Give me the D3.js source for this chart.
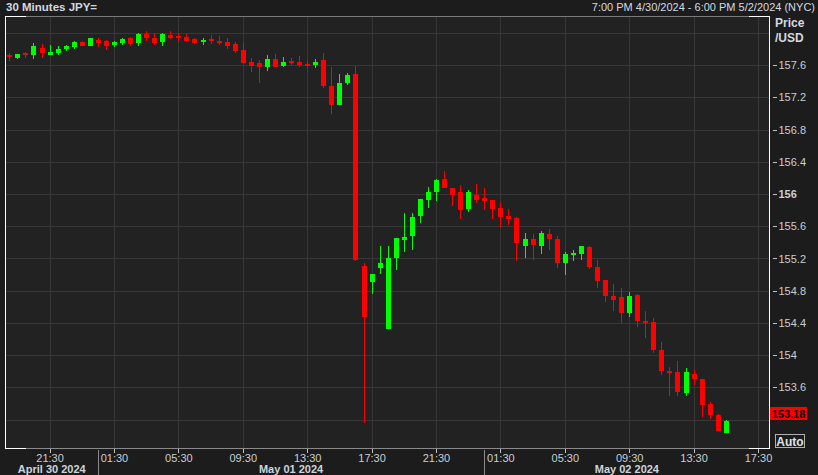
<!DOCTYPE html>
<html><head><meta charset="utf-8">
<script src="https://cdn.jsdelivr.net/npm/d3@7"></script>
<style>
body{margin:0;background:#1c1c1c;overflow:hidden;}
svg{display:block;font-family:"Liberation Sans",Arial,sans-serif;}
</style>
</head><body>
<svg id="chart" width="818" height="475"></svg>
<script>
// ---- data (30-minute USD/JPY candles from 7:00 PM 4/30/2024, NYC) ----
const opens  = [157.72,157.69,157.75,157.73,157.81,157.72,157.75,157.80,157.82,157.89,
                157.83,157.91,157.90,157.85,157.87,157.94,157.87,157.98,157.94,157.88,
                157.97,157.96,157.95,157.92,157.88,157.92,157.90,157.89,157.86,157.79,
                157.64,157.62,157.58,157.67,157.59,157.65,157.64,157.61,157.60,157.66,
                157.34,157.11,157.38,157.49,155.11,154.91,155.08,154.33,155.20,155.43,
                155.48,155.73,155.93,156.02,156.19,156.08,156.02,155.81,155.99,155.95,
                155.93,155.83,155.73,155.70,155.36,155.44,155.36,155.50,155.44,155.14,
                155.25,155.26,155.34,155.09,154.93,154.73,154.72,154.52,154.75,154.43,
                154.41,154.07,153.80,153.79,153.53,153.77,153.70,153.39,153.26,153.04];
const highs  = [157.75,157.74,157.76,157.87,157.86,157.85,157.84,157.85,157.90,157.90,
                157.94,157.94,157.91,157.90,157.94,157.95,158.00,158.02,158.00,158.00,
                158.02,158.00,157.98,157.94,157.94,157.97,157.96,157.94,157.89,157.87,
                157.69,157.66,157.72,157.74,157.70,157.69,157.71,157.65,157.67,157.75,
                157.57,157.49,157.50,157.59,155.14,155.01,155.35,155.36,155.45,155.77,
                155.77,155.94,156.09,156.19,156.29,156.08,156.11,156.05,156.12,156.08,
                155.93,155.90,155.82,155.71,155.52,155.50,155.54,155.57,155.48,155.28,
                155.31,155.36,155.35,155.18,154.93,154.88,154.84,154.79,154.76,154.55,
                154.46,154.16,153.85,153.93,153.84,153.82,153.70,153.42,153.27,153.20];
const lows   = [157.65,157.67,157.69,157.68,157.69,157.72,157.73,157.78,157.80,157.83,
                157.83,157.82,157.79,157.82,157.85,157.83,157.83,157.90,157.85,157.84,
                157.92,157.88,157.89,157.86,157.85,157.86,157.85,157.80,157.75,157.62,
                157.51,157.38,157.52,157.57,157.57,157.60,157.58,157.56,157.56,157.32,
                156.99,157.10,157.35,155.17,153.16,154.76,155.01,154.32,155.06,155.28,
                155.31,155.64,155.83,155.91,156.07,155.85,155.69,155.78,155.89,155.80,
                155.69,155.59,155.61,155.17,155.20,155.18,155.25,155.31,155.08,155.00,
                155.17,155.18,155.07,154.83,154.66,154.55,154.40,154.47,154.35,154.21,
                154.03,153.76,153.49,153.49,153.49,153.63,153.23,153.21,153.06,153.04];
const closes = [157.70,157.74,157.73,157.84,157.75,157.76,157.80,157.84,157.89,157.84,
                157.93,157.87,157.84,157.89,157.92,157.86,157.98,157.94,157.87,157.98,
                157.94,157.94,157.90,157.87,157.91,157.90,157.88,157.84,157.78,157.63,
                157.59,157.57,157.67,157.58,157.64,157.62,157.60,157.60,157.64,157.34,
                157.10,157.38,157.48,155.18,154.47,155.01,155.15,155.21,155.45,155.47,
                155.72,155.94,156.03,156.17,156.08,155.99,155.80,156.02,155.93,155.91,
                155.81,155.72,155.69,155.39,155.44,155.37,155.52,155.44,155.14,155.26,
                155.27,155.36,155.09,154.92,154.73,154.69,154.52,154.73,154.42,154.42,
                154.07,153.80,153.78,153.54,153.79,153.70,153.38,153.26,153.06,153.18];
const firstCandle = new Date(2024, 3, 30, 19, 0);
const candleMinutes = 30;
const xTickTimes  = ["2024-04-30 21:30","2024-05-01 01:30","2024-05-01 05:30","2024-05-01 09:30",
                     "2024-05-01 13:30","2024-05-01 17:30","2024-05-01 21:30","2024-05-02 01:30",
                     "2024-05-02 05:30","2024-05-02 09:30","2024-05-02 13:30","2024-05-02 17:30"];
const xTickLabels = ["21:30","01:30","05:30","09:30","13:30","17:30","21:30","01:30","05:30","09:30","13:30","17:30"];
const dateBreaks  = ["2024-05-01 00:30","2024-05-02 00:30"];
const dateLabels  = ["April 30 2024","May 01 2024","May 02 2024"];
const yGrid       = [153.2,153.6,154.0,154.4,154.8,155.2,155.6,156.0,156.4,156.8,157.2,157.6,158.0];
const yTickValues = [153.6,154.0,154.4,154.8,155.2,155.6,156.0,156.4,156.8,157.2,157.6];
const yTickLabels = ["153.6","154","154.4","154.8","155.2","155.6","156","156.4","156.8","157.2","157.6"];
const lastPrice   = 153.18;
const titleText   = "30 Minutes JPY=";
const rangeText   = "7:00 PM 4/30/2024 - 6:00 PM 5/2/2024 (NYC)";
const unitLines   = ["Price","/USD"];

// ---- layout ----
const W = 818, H = 475;
const plot = {left: 5.7, right: 769.5, top: 16, bottom: 448};
const parse = d3.timeParse("%Y-%m-%d %H:%M");
const addMin = (d, m) => new Date(d.getTime() + m * 60000);
const times = opens.map((_, i) => addMin(firstCandle, i * candleMinutes));
const candles = opens.map((o, i) => ({t: times[i], o, h: highs[i], l: lows[i], c: closes[i]}));

const x = d3.scaleTime()
  .domain([addMin(firstCandle, -0.447 * candleMinutes), addMin(firstCandle, 94.43 * candleMinutes)])
  .range([plot.left, plot.right]);
const y = d3.scaleLinear().domain([152.849, 158.208]).range([plot.bottom, plot.top]);

const svg = d3.select("#chart");
svg.append("rect").attr("width", W).attr("height", H).attr("fill", "#1c1c1c");
svg.append("rect").attr("x", plot.left).attr("y", plot.top)
  .attr("width", plot.right - plot.left).attr("height", plot.bottom - plot.top).attr("fill", "#222222");

// grid
const grid = svg.append("g").attr("shape-rendering", "crispEdges");
grid.selectAll("line.h").data(yGrid).join("line")
  .attr("x1", plot.left).attr("x2", plot.right)
  .attr("y1", d => Math.round(y(d)) + 0.5).attr("y2", d => Math.round(y(d)) + 0.5)
  .attr("stroke", "#383838").attr("stroke-width", 1);
const tickDates = xTickTimes.map(parse);
grid.selectAll("line.v").data(tickDates).join("line")
  .attr("x1", d => Math.round(x(d)) + 0.5).attr("x2", d => Math.round(x(d)) + 0.5)
  .attr("y1", plot.top).attr("y2", plot.bottom)
  .attr("stroke", "#383838").attr("stroke-width", 1);

// candles
const bodyW = 5;
const cg = svg.append("g").attr("shape-rendering", "crispEdges");
const colorOf = d => d.c >= d.o ? "#00ff00" : "#ff0000";
cg.selectAll("line.wick").data(candles).join("line")
  .attr("x1", d => Math.round(x(d.t)) + 0.5).attr("x2", d => Math.round(x(d.t)) + 0.5)
  .attr("y1", d => y(d.h)).attr("y2", d => y(d.l))
  .attr("stroke", colorOf).attr("stroke-width", 1);
cg.selectAll("rect.body").data(candles).join("rect")
  .attr("x", d => Math.round(x(d.t)) - 2)
  .attr("width", bodyW)
  .attr("y", d => Math.min(y(d.o), y(d.c)))
  .attr("height", d => Math.max(2, Math.abs(y(d.o) - y(d.c))))
  .attr("fill", colorOf);

// borders
const bord = svg.append("g").attr("shape-rendering", "crispEdges");
bord.append("line").attr("x1", plot.left).attr("x2", plot.right).attr("y1", plot.top + 0.5).attr("y2", plot.top + 0.5).attr("stroke", "#7a7a7a");
bord.append("line").attr("x1", plot.left).attr("x2", plot.right).attr("y1", plot.bottom + 0.5).attr("y2", plot.bottom + 0.5).attr("stroke", "#8a8a8a");
[[plot.top + 0.5], [plot.bottom + 0.5]].forEach(([yy]) => {
  bord.append("line").attr("x1", plot.left).attr("x2", plot.left + 20).attr("y1", yy).attr("y2", yy).attr("stroke", "#ffffff");
  bord.append("line").attr("x1", plot.right - 21).attr("x2", plot.right + 0.5).attr("y1", yy).attr("y2", yy).attr("stroke", "#ffffff");
});
bord.append("line").attr("x1", 5.5).attr("x2", 5.5).attr("y1", plot.top).attr("y2", plot.bottom + 1).attr("stroke", "#ffffff");
bord.append("line").attr("x1", 769.5).attr("x2", 769.5).attr("y1", plot.top).attr("y2", plot.bottom + 1).attr("stroke", "#ffffff");

// x axis
const xAxis = d3.axisBottom(x).tickValues(tickDates).tickSize(4).tickPadding(1)
  .tickFormat((d, i) => xTickLabels[i]);
const gx = svg.append("g").attr("transform", `translate(0,${plot.bottom + 1})`).call(xAxis);
gx.select(".domain").remove();
gx.selectAll(".tick line").attr("stroke", "#c0c0c0").attr("shape-rendering", "crispEdges");
gx.selectAll(".tick text").attr("fill", "#c9ced4").style("font-size", "11px").style("font-family", '"Liberation Sans",Arial,sans-serif');

// date breaks and labels
const breakDates = dateBreaks.map(parse);
svg.selectAll("line.brk").data(breakDates).join("line")
  .attr("x1", d => Math.round(x(d)) + 0.5).attr("x2", d => Math.round(x(d)) + 0.5)
  .attr("y1", plot.bottom + 2).attr("y2", H)
  .attr("stroke", "#8a8a8a").attr("shape-rendering", "crispEdges");
const segEdges = [plot.left, ...breakDates.map(d => x(d)), plot.right];
svg.selectAll("text.date").data(dateLabels).join("text")
  .attr("x", (d, i) => (segEdges[i] + segEdges[i + 1]) / 2)
  .attr("y", 472.8).attr("text-anchor", "middle")
  .attr("fill", "#cdd5de").style("font-size", "11px").style("font-weight", "bold")
  .text(d => d);

// y axis
const yAxis = d3.axisRight(y).tickValues(yTickValues).tickSize(4).tickPadding(2)
  .tickFormat((d, i) => yTickLabels[i]);
const gy = svg.append("g").attr("transform", `translate(772.5,0)`).call(yAxis);
gy.select(".domain").remove();
gy.selectAll(".tick line").attr("stroke", "#c0c0c0").attr("shape-rendering", "crispEdges");
gy.selectAll(".tick text").attr("fill", "#c9ced4").style("font-size", "11px")
  .style("font-family", '"Liberation Sans",Arial,sans-serif')
  .style("font-weight", d => d === 156 ? "bold" : "normal");

// unit header
svg.selectAll("text.unit").data(unitLines).join("text")
  .attr("x", 775).attr("y", (d, i) => 27 + i * 15)
  .attr("fill", "#d3d9e0").style("font-size", "12px").style("font-weight", "bold").text(d => d);

// last price box
const lpY = y(lastPrice);
svg.append("rect").attr("x", 770).attr("y", Math.round(lpY) - 14).attr("width", 37).attr("height", 13).attr("fill", "#ff0000");
svg.append("text").attr("x", 788.5).attr("y", Math.round(lpY) - 3.5).attr("text-anchor", "middle")
  .attr("fill", "#000").style("font-size", "11px").style("font-weight", "bold").text(lastPrice.toFixed(2));

// Auto button
svg.append("rect").attr("x", 775.5).attr("y", 434.5).attr("width", 29).attr("height", 13)
  .attr("fill", "#1c1c1c").attr("stroke", "#b0b0b0").attr("shape-rendering", "crispEdges");
svg.append("text").attr("x", 790).attr("y", 445.5).attr("text-anchor", "middle")
  .attr("fill", "#dfe4ea").style("font-size", "12px").style("font-weight", "bold").text("Auto");

// header texts
svg.append("text").attr("x", 6).attr("y", 11).attr("fill", "#d3d9e0")
  .style("font-size", "11.5px").style("font-weight", "bold").text(titleText);
svg.append("text").attr("x", 815).attr("y", 11).attr("text-anchor", "end").attr("fill", "#d3d9e0")
  .style("font-size", "11px").text(rangeText);
</script>
</body></html>
